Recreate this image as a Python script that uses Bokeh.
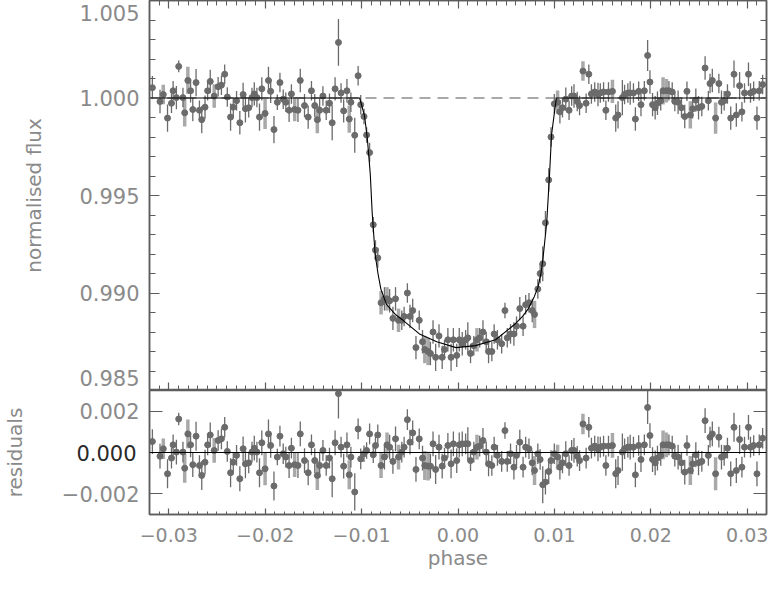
import numpy as np
from bokeh.plotting import figure
from bokeh.layouts import column
from bokeh.models import ColumnDataSource, LinearAxis, FixedTicker, Range1d, Span
from bokeh.embed import file_html
from bokeh.resources import INLINE

# ---------------- data ----------------
phase = [
    -0.03170, -0.03091, -0.03057, -0.03013, -0.02972, -0.02955, -0.02921, -0.02897, -0.02853, -0.02835,
    -0.02802, -0.02774, -0.02751, -0.02717, -0.02682, -0.02658, -0.02624, -0.02597, -0.02570, -0.02529,
    -0.02488, -0.02454, -0.02420, -0.02393, -0.02359, -0.02331, -0.02297, -0.02263, -0.02229, -0.02205,
    -0.02171, -0.02137, -0.02113, -0.02086, -0.02059, -0.02035, -0.02001, -0.01966, -0.01943, -0.01909,
    -0.01874, -0.01847, -0.01813, -0.01786, -0.01752, -0.01728, -0.01694, -0.01660, -0.01636, -0.01592,
    -0.01554, -0.01520, -0.01486, -0.01459, -0.01435, -0.01401, -0.01367, -0.01333, -0.01305, -0.01275,
    -0.01240, -0.01213, -0.01186, -0.01152, -0.01128, -0.01111, -0.01071, -0.01036, -0.01009, -0.00975,
    -0.00948, -0.00917, -0.00879, -0.00856, -0.00832, -0.00798, -0.00763, -0.00736, -0.00709, -0.00675,
    -0.00648, -0.00617, -0.00583, -0.00559, -0.00525, -0.00498, -0.00470, -0.00436, -0.00402, -0.00368,
    -0.00344, -0.00310, -0.00286, -0.00259, -0.00232, -0.00197, -0.00164, -0.00140, -0.00105, -0.00072,
    -0.00048, -0.00013, 0.00013, 0.00044, 0.00079, 0.00102, 0.00130, 0.00164, 0.00197, 0.00225,
    0.00259, 0.00293, 0.00317, 0.00351, 0.00375, 0.00409, 0.00453, 0.00487, 0.00511, 0.00545,
    0.00580, 0.00607, 0.00641, 0.00675, 0.00702, 0.00736, 0.00770, 0.00794, 0.00828, 0.00852,
    0.00879, 0.00907, 0.00941, 0.00965, 0.00999, 0.01033, 0.01057, 0.01084, 0.01118, 0.01152,
    0.01179, 0.01203, 0.01237, 0.01261, 0.01296, 0.01329, 0.01357, 0.01384, 0.01418, 0.01452,
    0.01476, 0.01510, 0.01534, 0.01561, 0.01602, 0.01636, 0.01660, 0.01705, 0.01728, 0.01762,
    0.01786, 0.01820, 0.01840, 0.01874, 0.01898, 0.01933, 0.01967, 0.01991, 0.02018, 0.02045,
    0.02069, 0.02103, 0.02127, 0.02161, 0.02188, 0.02222, 0.02249, 0.02283, 0.02318, 0.02352,
    0.02375, 0.02410, 0.02434, 0.02467, 0.02495, 0.02529, 0.02563, 0.02597, 0.02614, 0.02638,
    0.02672, 0.02706, 0.02733, 0.02761, 0.02795, 0.02829, 0.02863, 0.02887, 0.02921, 0.02945,
    0.02972, 0.03013, 0.03034, 0.03067, 0.03101, 0.03125, 0.03160,
]

flux = [
    1.00053, 0.99982, 1.00018, 0.99897, 0.99973, 1.00037, 1.00002, 1.00162, 1.00002, 0.99924,
    1.00090, 1.00037, 0.99941, 1.00079, 0.99937, 0.99889, 0.99953, 1.00037, 1.00085, 1.00010,
    1.00058, 1.00066, 1.00122, 1.00005, 0.99902, 0.99953, 0.99986, 0.99873, 1.00018, 0.99945,
    0.99950, 1.00002, 1.00021, 1.00002, 0.99902, 1.00047, 0.99921, 1.00090, 1.00034, 0.99838,
    0.99978, 1.00079, 0.99994, 0.99978, 0.99937, 1.00021, 0.99941, 0.99937, 1.00090, 0.99961,
    0.99902, 1.00037, 0.99961, 0.99889, 0.99937, 1.00010, 0.99937, 0.99973, 0.99873, 1.00047,
    1.00285, 1.00026, 0.99934, 1.00037, 0.99892, 0.99978, 0.99809, 1.00114, 0.99966, 0.99905,
    0.99810, 0.99720, 0.99350, 0.99220, 0.99180, 0.98950, 0.98970, 0.98970, 0.98960, 0.98870,
    0.98970, 0.98860, 0.98860, 0.98880, 0.99000, 0.98880, 0.98910, 0.98720, 0.98860, 0.98750,
    0.98710, 0.98700, 0.98690, 0.98800, 0.98670, 0.98780, 0.98670, 0.98710, 0.98760, 0.98670,
    0.98760, 0.98680, 0.98760, 0.98740, 0.98760, 0.98770, 0.98690, 0.98730, 0.98760, 0.98770,
    0.98800, 0.98750, 0.98700, 0.98700, 0.98790, 0.98760, 0.98740, 0.98910, 0.98770, 0.98790,
    0.98790, 0.98830, 0.98920, 0.98830, 0.98940, 0.98950, 0.98910, 0.98890, 0.99020, 0.99100,
    0.99150, 0.99360, 0.99580, 0.99800, 0.99970, 0.99978, 0.99929, 0.99950, 0.99994, 0.99937,
    1.00010, 1.00010, 0.99982, 0.99961, 1.00138, 0.99973, 1.00122, 1.00021, 1.00031, 1.00018,
    1.00026, 1.00031, 0.99937, 1.00031, 1.00034, 0.99897, 0.99913, 1.00002, 1.00018, 1.00026,
    1.00026, 1.00026, 0.99892, 1.00034, 0.99966, 1.00037, 1.00218, 1.00082, 0.99966, 0.99950,
    0.99973, 0.99986, 1.00037, 1.00037, 1.00037, 1.00031, 0.99982, 0.99978, 0.99950, 0.99905,
    1.00034, 0.99913, 0.99945, 0.99989, 0.99950, 0.99957, 1.00154, 0.99986, 1.00074, 1.00090,
    0.99897, 1.00074, 0.99978, 0.99986, 1.00021, 0.99897, 1.00122, 0.99913, 1.00063, 0.99929,
    1.00026, 1.00122, 1.00026, 1.00034, 0.99897, 1.00037, 1.00069,
]

residual = [
    0.53e-3, -0.18e-3, 0.18e-3, -1.03e-3, -0.27e-3, 0.37e-3, 0.02e-3, 1.62e-3, 0.02e-3, -0.76e-3,
    0.90e-3, 0.37e-3, -0.59e-3, 0.79e-3, -0.63e-3, -1.11e-3, -0.47e-3, 0.37e-3, 0.85e-3, 0.10e-3,
    0.58e-3, 0.66e-3, 1.22e-3, 0.05e-3, -0.98e-3, -0.47e-3, -0.14e-3, -1.27e-3, 0.18e-3, -0.55e-3,
    -0.50e-3, 0.02e-3, 0.21e-3, 0.02e-3, -0.98e-3, 0.47e-3, -0.79e-3, 0.90e-3, 0.34e-3, -1.62e-3,
    -0.22e-3, 0.79e-3, -0.06e-3, -0.22e-3, -0.63e-3, 0.21e-3, -0.59e-3, -0.63e-3, 0.90e-3, -0.39e-3,
    -0.98e-3, 0.37e-3, -0.39e-3, -1.11e-3, -0.63e-3, 0.10e-3, -0.63e-3, -0.27e-3, -1.27e-3, 0.47e-3,
    2.85e-3, 0.26e-3, -0.66e-3, 0.37e-3, -1.08e-3, -0.22e-3, -1.91e-3, 1.14e-3, -0.31e-3, -0.06e-3,
    0.10e-3, 0.90e-3, -0.11e-3, 0.34e-3, 0.85e-3, -0.63e-3, -0.22e-3, 0.37e-3, 0.26e-3, -0.43e-3,
    0.66e-3, -0.22e-3, 0.02e-3, 0.26e-3, 1.59e-3, 0.50e-3, 0.95e-3, -0.82e-3, 0.66e-3, -0.27e-3,
    -0.63e-3, -0.66e-3, -0.66e-3, 0.42e-3, -0.82e-3, 0.26e-3, -0.66e-3, -0.27e-3, 0.34e-3, -0.55e-3,
    0.42e-3, -0.39e-3, 0.37e-3, 0.42e-3, 0.42e-3, 0.42e-3, -0.39e-3, 0.02e-3, 0.26e-3, 0.31e-3,
    0.58e-3, 0.02e-3, -0.55e-3, -0.63e-3, 0.26e-3, -0.14e-3, -0.43e-3, 1.06e-3, -0.43e-3, -0.06e-3,
    -0.71e-3, -0.14e-3, 0.50e-3, -0.71e-3, 0.26e-3, 0.18e-3, -0.50e-3, -0.87e-3, -0.06e-3, -0.34e-3,
    -1.56e-3, -1.43e-3, -0.92e-3, -0.39e-3, -0.06e-3, -0.22e-3, -0.71e-3, -0.50e-3, -0.06e-3, -0.63e-3,
    0.10e-3, 0.10e-3, -0.18e-3, -0.39e-3, 1.38e-3, -0.27e-3, 1.22e-3, 0.21e-3, 0.31e-3, 0.18e-3,
    0.26e-3, 0.31e-3, -0.63e-3, 0.31e-3, 0.34e-3, -1.03e-3, -0.87e-3, 0.02e-3, 0.18e-3, 0.26e-3,
    0.26e-3, 0.26e-3, -1.08e-3, 0.34e-3, -0.34e-3, 0.37e-3, 2.18e-3, 0.82e-3, -0.34e-3, -0.50e-3,
    -0.27e-3, -0.14e-3, 0.37e-3, 0.37e-3, 0.37e-3, 0.31e-3, -0.18e-3, -0.22e-3, -0.50e-3, -0.95e-3,
    0.34e-3, -0.87e-3, -0.55e-3, -0.11e-3, -0.50e-3, -0.43e-3, 1.54e-3, -0.14e-3, 0.74e-3, 0.90e-3,
    -1.03e-3, 0.74e-3, -0.22e-3, -0.14e-3, 0.21e-3, -1.03e-3, 1.22e-3, -0.87e-3, 0.63e-3, -0.71e-3,
    0.26e-3, 1.22e-3, 0.26e-3, 0.34e-3, -1.03e-3, 0.37e-3, 0.69e-3,
]

flux_err = [
    6e-4, 6e-4, 5e-4, 7e-4, 5e-4, 5e-4, 6e-4, 3e-4, 5e-4, 7e-4,
    7e-4, 6e-4, 6e-4, 7e-4, 5e-4, 7e-4, 6e-4, 5e-4, 6e-4, 6e-4,
    5e-4, 5e-4, 5e-4, 5e-4, 7e-4, 5e-4, 5e-4, 6e-4, 6e-4, 7e-4,
    5e-4, 5e-4, 6e-4, 5e-4, 7e-4, 6e-4, 8e-4, 7e-4, 6e-4, 7e-4,
    4e-4, 5e-4, 5e-4, 5e-4, 6e-4, 5e-4, 6e-4, 6e-4, 6e-4, 6e-4,
    6e-4, 5e-4, 6e-4, 7e-4, 6e-4, 5e-4, 5e-4, 5e-4, 9e-4, 6e-4,
    12e-4, 5e-4, 6e-4, 6e-4, 7e-4, 5e-4, 9e-4, 5e-4, 5e-4, 4e-4,
    4e-4, 5e-4, 4e-4, 5e-4, 5e-4, 6e-4, 6e-4, 6e-4, 6e-4, 6e-4,
    6e-4, 6e-4, 5e-4, 5e-4, 5e-4, 6e-4, 6e-4, 6e-4, 5e-4, 6e-4,
    7e-4, 7e-4, 6e-4, 6e-4, 7e-4, 6e-4, 6e-4, 5e-4, 6e-4, 7e-4,
    6e-4, 6e-4, 6e-4, 6e-4, 5e-4, 8e-4, 5e-4, 5e-4, 6e-4, 5e-4,
    6e-4, 5e-4, 6e-4, 5e-4, 5e-4, 5e-4, 5e-4, 4e-4, 5e-4, 5e-4,
    6e-4, 5e-4, 6e-4, 5e-4, 5e-4, 5e-4, 6e-4, 7e-4, 5e-4, 5e-4,
    9e-4, 6e-4, 6e-4, 5e-4, 5e-4, 6e-4, 6e-4, 5e-4, 6e-4, 5e-4,
    5e-4, 6e-4, 5e-4, 5e-4, 5e-4, 5e-4, 5e-4, 5e-4, 5e-4, 6e-4,
    5e-4, 5e-4, 5e-4, 5e-4, 6e-4, 7e-4, 7e-4, 9e-4, 5e-4, 5e-4,
    6e-4, 5e-4, 6e-4, 5e-4, 6e-4, 5e-4, 8e-4, 6e-4, 6e-4, 6e-4,
    6e-4, 5e-4, 7e-4, 6e-4, 5e-4, 5e-4, 5e-4, 6e-4, 5e-4, 6e-4,
    5e-4, 7e-4, 5e-4, 6e-4, 6e-4, 5e-4, 6e-4, 5e-4, 5e-4, 6e-4,
    8e-4, 5e-4, 6e-4, 5e-4, 5e-4, 6e-4, 7e-4, 6e-4, 7e-4, 5e-4,
    5e-4, 6e-4, 5e-4, 5e-4, 6e-4, 5e-4, 5e-4,
]

# points belonging to the second (lighter, thick error bar) data set
light_idx = [2, 9, 10, 19, 36, 46, 53, 64, 75, 77, 81, 90, 91, 108, 127, 135,
             144, 154, 172, 173, 181, 190]

# fitted transit model curve
model_phase = [-0.032, -0.0102, -0.0097, -0.0094, -0.0091, -0.0089, -0.0086, -0.0083,
               -0.0080, -0.0074, -0.0065, -0.0057, -0.0040, -0.0022, -0.0002, 0.0018,
               0.0039, 0.0059, 0.0067, 0.0073, 0.0079, 0.0083, 0.0086, 0.0088,
               0.0092, 0.0095, 0.0097, 0.0102, 0.032]
model_flux = [1.0, 1.0, 0.9991, 0.9979, 0.9961, 0.9941, 0.9920, 0.9910,
              0.9902, 0.9894, 0.9889, 0.9886, 0.9879, 0.9875, 0.9872, 0.9873,
              0.9876, 0.9884, 0.9888, 0.9892, 0.9898, 0.9903, 0.9910, 0.9917,
              0.9936, 0.9961, 0.9981, 1.0, 1.0]

x_major = [-0.03, -0.02, -0.01, 0.0, 0.01, 0.02, 0.03]
x_labels = ["\u22120.03", "\u22120.02", "\u22120.01", "0.00", "0.01", "0.02", "0.03"]
flux_major = [0.985, 0.990, 0.995, 1.000, 1.005]
flux_labels = ["0.985", "0.990", "0.995", "1.000", "1.005"]
resid_major = [-0.002, 0.0, 0.002]
resid_labels = ["\u22120.002", "0.000", "0.002"]

x_minor = [round(i * 0.001, 3) for i in range(-32, 33)]
flux_minor = [round(0.985 + i * 0.001, 3) for i in range(21)]

# ---------------- styling ----------------
FONT = "DejaVu Sans"
TXT = "#8a8a8a"
DARK_TXT = "#2a2a2a"
AXC = "#5c5c5c"
PT = "#6b6b6b"
LIGHT = "#a9a9a9"

n = len(phase)
assert len(flux) == n and len(residual) == n and len(flux_err) == n

ph = np.array(phase)
fl = np.array(flux)
rs = np.array(residual)
er = np.array(flux_err)
is_light = np.zeros(n, dtype=bool)
is_light[light_idx] = True


def make_src(mask, y):
    return ColumnDataSource(dict(x=ph[mask], y=y[mask], lo=(y - er)[mask], hi=(y + er)[mask]))


def tick_axis(ticks, minor, major_in, minor_in):
    """Axis line + inward ticks, no labels."""
    ax = LinearAxis(ticker=FixedTicker(ticks=ticks, minor_ticks=minor))
    ax.major_tick_in = major_in
    ax.major_tick_out = 0
    ax.minor_tick_in = minor_in
    ax.minor_tick_out = 0
    ax.axis_line_color = AXC
    ax.axis_line_width = 1.5
    ax.major_tick_line_color = AXC
    ax.minor_tick_line_color = AXC
    ax.major_tick_line_width = 1.2
    ax.minor_tick_line_width = 1
    ax.major_label_overrides = {t: "" for t in ticks}
    ax.major_label_text_font_size = "0px"
    ax.major_label_standoff = 0
    return ax


def label_axis(positions, labels, size, standoff, axis_label=None, axis_label_standoff=5, color=TXT):
    """Labels only: no line, no ticks."""
    ax = LinearAxis(ticker=FixedTicker(ticks=positions, minor_ticks=[]))
    ax.major_tick_in = 0
    ax.major_tick_out = 0
    ax.minor_tick_in = 0
    ax.minor_tick_out = 0
    ax.axis_line_color = None
    ax.major_tick_line_color = None
    ax.minor_tick_line_color = None
    ax.major_label_overrides = {p: t for p, t in zip(positions, labels)}
    ax.major_label_text_font = FONT
    ax.major_label_text_font_size = size
    ax.major_label_text_color = color
    ax.major_label_standoff = standoff
    if axis_label:
        ax.axis_label = axis_label
        ax.axis_label_text_font = FONT
        ax.axis_label_text_font_size = "20px"
        ax.axis_label_text_font_style = "normal"
        ax.axis_label_text_color = TXT
        ax.axis_label_standoff = axis_label_standoff
    return ax


# ---------------- top panel: light curve ----------------
p1 = figure(width=768, height=390, x_range=Range1d(-0.032, 0.032), y_range=Range1d(0.985, 1.005),
            output_backend="svg", toolbar_location=None, x_axis_location=None, y_axis_location=None,
            min_border_left=142, min_border_right=2, min_border_top=0, min_border_bottom=0)
p1.outline_line_color = AXC
p1.outline_line_width = 1.5
p1.grid.visible = False

# the end labels sit just inside the frame, as in the original
flux_label_pos = list(flux_major)
flux_label_pos[0] = flux_major[0] + 0.00066
flux_label_pos[-1] = flux_major[-1] - 0.00064
p1.add_layout(tick_axis(flux_major, flux_minor, 10, 6), "left")
p1.add_layout(label_axis(flux_label_pos, flux_labels, "21px", 10, "normalised flux", 30), "left")
p1.add_layout(tick_axis(flux_major, flux_minor, 10, 6), "right")
p1.add_layout(tick_axis(x_major, x_minor, 8, 5), "above")
p1.add_layout(tick_axis(x_major, x_minor, 8, 5), "below")

p1.add_layout(Span(location=1.0, dimension="width", line_color=LIGHT, line_width=2,
                   line_dash="11 7", level="underlay"))

src_l = make_src(is_light, fl)
src_d = make_src(~is_light, fl)
p1.segment(x0="x", y0="lo", x1="x", y1="hi", source=src_l, line_color=LIGHT, line_width=3.5)
p1.segment(x0="x", y0="lo", x1="x", y1="hi", source=src_d, line_color=PT, line_width=1.3)
p1.scatter(x=ph, y=fl, size=6, color=PT, line_color=PT)
p1.line(model_phase, model_flux, line_color="black", line_width=1.1)

# ---------------- bottom panel: residuals ----------------
p2 = figure(width=768, height=183, x_range=p1.x_range, y_range=Range1d(-0.003, 0.003),
            output_backend="svg", toolbar_location=None, x_axis_location=None, y_axis_location=None,
            min_border_left=142, min_border_right=2, min_border_top=0, min_border_bottom=59)
p2.outline_line_color = AXC
p2.outline_line_width = 1.5
p2.grid.visible = False

# gray +-0.002 labels next to the frame, the black 0.000 label pulled back onto the same column
gray_labels = [t if v != 0.0 else "" for v, t in zip(resid_major, resid_labels)]
zero_labels = [t if v == 0.0 else "" for v, t in zip(resid_major, resid_labels)]
p2.add_layout(tick_axis(resid_major, [], 13, 0), "left")
p2.add_layout(label_axis(resid_major, gray_labels, "21px", 10), "left")
p2.add_layout(label_axis(resid_major, zero_labels, "21px", -78, "residuals", 46, color=DARK_TXT), "left")
p2.add_layout(tick_axis(resid_major, [], 13, 0), "right")
p2.add_layout(tick_axis(x_major, x_minor, 6, 3), "below")
p2.add_layout(label_axis(x_major, x_labels, "19px", 13, "phase", 1), "below")

src_lr = make_src(is_light, rs)
src_dr = make_src(~is_light, rs)
p2.segment(x0="x", y0="lo", x1="x", y1="hi", source=src_lr, line_color=LIGHT, line_width=3.5)
p2.segment(x0="x", y0="lo", x1="x", y1="hi", source=src_dr, line_color=PT, line_width=1.3)
p2.scatter(x=ph, y=rs, size=6, color=PT, line_color=PT)
p2.add_layout(Span(location=0.0, dimension="width", line_color="black", line_width=1.1))

layout = column(p1, p2, spacing=0)
open("out.html", "w").write(file_html(layout, INLINE))
